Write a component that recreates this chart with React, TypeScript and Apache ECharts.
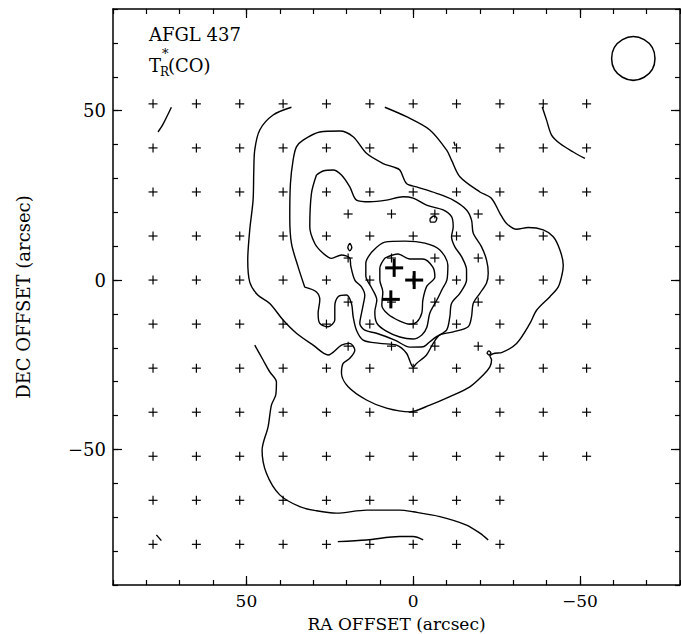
import React, { useEffect, useRef } from "react";
import * as echarts from "echarts";

type Pt = [number, number];

const FONT = "DejaVu Serif";
const RA_MIN = -80;
const RA_MAX = 90;
const DEC_MIN = -90;
const DEC_MAX = 80;
const LABELLED_TICKS = [-50, 0, 50];

// Observed positions (arcsec offsets)
const MAP_RA = [78, 65, 52, 39, 26, 13, 0, -13, -26, -39, -52];
const MAP_DEC = [52, 39, 26, 13, 0, -13, -26, -39, -52];
const SOUTH_RA = [78, 65, 52, 39, 26, 13, 0, -13, -26];
const SOUTH_DEC = [-65, -78];
const FINE_RA = [19.5, 6.5, -6.5, -19.5];
const FINE_DEC = [19.5, 6.5, -6.5, -19.5];
const SOURCES: Pt[] = [[5.7, 3.6], [-0.3, 0], [6.7, -5.7]];
const BEAM = [-66, 65.4, 13]; // ra, dec, fwhm

// Contours of T_R*(CO)
const LEVEL1_SW: Pt[] = [[47.5,-19.2],[45,-23.6],[43,-27.1],[41,-30.1],[41.2,-33.9],[42.5,-36.9],[43.5,-43.3],[45.3,-50.2],[44,-57],[40,-63.4],[34,-66.9],[29,-68.1],[23,-68.8],[14,-67.9],[4,-67.9],[0,-68.4],[-8,-69.8],[-16,-72.3],[-20,-74.7],[-22.5,-76.7]];
const LEVEL1_NW: Pt[] = [[76.5,43.7],[75,46],[72.5,51]];
const LEVEL1_NE: Pt[] = [[-38.7,51.1],[-40,47.2],[-41.5,42.8],[-44,40.3],[-48,37.8],[-51.5,35.9]];
const LEVEL1_SWC: Pt[] = [[77,-75.2],[75.5,-76.9]];
const LEVEL1_S: Pt[] = [[22.6,-77.2],[14,-76.7],[4,-75.7],[0,-75.7],[-3,-76.7]];
const LEVEL2: Pt[] = [[36.5,51],[42,48.7],[46,44.3],[47.5,38.4],[47.8,31.6],[48,23.6],[49,14.8],[49.6,5.9],[49,-0.6],[46.6,-4.4],[43,-6.9],[39,-11.8],[35,-15.7],[30,-19.2],[25.5,-22.1],[21.5,-19.2],[19,-18.7],[17.5,-20.7],[19,-23.1],[21,-24.6],[21.5,-27.5],[19.5,-31.5],[14,-35.4],[8,-37.8],[1,-38.9],[-5,-36.9],[-11,-34.4],[-17,-31.5],[-21,-28],[-23,-25.6],[-23.5,-23.6],[-23,-22.4],[-24.5,-21.6],[-26.5,-21.4],[-31,-18.7],[-35,-12.8],[-37,-8.9],[-41,-4.9],[-43.5,-2],[-44.6,1.5],[-45,4.4],[-44,8.9],[-42,12.8],[-39,14.8],[-34.5,15.5],[-31,15],[-28,16.7],[-26,19.7],[-23.5,24.1],[-20,26],[-14,30.5],[-11.5,35.4],[-10,38.4],[-5,44.3],[2,48.2],[8.5,51]];
const LEVEL3: Pt[] = [[32.5,-2.1],[34.5,3.9],[36.5,10.8],[37,18.7],[36.8,28.5],[36,35.4],[35,39.3],[33,41.3],[28,43.7],[22,44],[18,42.3],[14,37.4],[9,34.4],[6,33.4],[4,32.5],[2,28.5],[-1,27.5],[-7,25.6],[-12,23.6],[-16,20.7],[-17.5,17.7],[-18,13.9],[-20.5,9.8],[-22,5.9],[-22.5,2.1],[-22,-0.9],[-20,-3.9],[-18,-6.9],[-17.5,-10.8],[-16.5,-13.8],[-12,-15.3],[-8,-16.2],[-6,-18.7],[-4,-22.1],[-1,-24.6],[0,-25.7],[2,-21.6],[5,-19.2],[10,-18.7],[15,-17.7],[17,-14.8],[18,-10.8],[18.5,-6.9],[20,-4.4],[22.5,-4.9],[23.5,-7.9],[23.5,-11.8],[25.5,-13.8],[28,-12.8],[28.5,-9.8],[28,-5.9],[29,-3.5],[32.5,-2.1]];
const LEVEL4: Pt[] = [[29,31],[27,32.2],[24,32.5],[21.5,31],[19,27.5],[17,23.6],[13,23.1],[8,23.6],[3,24.6],[0,24.2],[-4,22.1],[-9,20.7],[-11.5,18.7],[-12,15.7],[-11.5,12.8],[-12.5,9.8],[-14.5,6.9],[-16,3],[-16,0],[-14,-3.9],[-11.5,-6.9],[-11,-10.8],[-10,-14.8],[-7,-16.7],[-5,-18.2],[-3,-19.7],[1,-19.8],[5.5,-17.7],[11,-15.7],[14.5,-14.8],[16,-12.8],[15.5,-9.8],[15,-7.4],[14.5,-4.5],[15.5,-2],[17.5,0],[18.7,4.1],[19,6.5],[21.5,7.4],[24.5,6.4],[27,7.9],[29.5,10.8],[31,15.7],[30.5,25.6],[29,31]];
const LEVEL5: Pt[] = [[12.4,8.3],[8.5,11.2],[2.5,11.5],[-3.5,10.9],[-8,8.9],[-10.4,4.4],[-10.1,0],[-8.6,-2.9],[-7.1,-5.9],[-5,-9.7],[-4.1,-13.9],[-2.6,-16.2],[0.1,-17.4],[4,-16.8],[8.2,-15],[10.9,-12.7],[11.5,-9.4],[10.9,-5.9],[12.4,-2.4],[14.2,1.2],[14.2,5],[12.4,8.3]];
const LEVEL6: Pt[] = [[8.5,6.5],[4.6,7.7],[1,6.2],[-2.9,6.2],[-5.9,3.8],[-6.5,0.9],[-4.1,-1.8],[-2.9,-5.9],[-2.6,-9.7],[-1.1,-12.4],[1,-13],[4,-12.1],[7.6,-10],[9.4,-7.4],[9.1,-3.5],[10,0],[10,3.5],[8.5,6.5]];
const SPECK_A: Pt[] = [[19,10.9],[18.4,9.7],[19,8.6],[19.6,9.7],[19,10.9]];
const SPECK_B: Pt[] = [[-5,18],[-6.2,18.9],[-7.1,18.3],[-6.5,17.1],[-5.3,17.1],[-5,18]];
const SPECK_C: Pt[] = [[-22.1,-21.5],[-22.7,-20.9],[-23.3,-21.5],[-22.7,-22.1],[-22.1,-21.5]];
const SPECK_D: Pt[] = [[-12.2,40.8],[-12.6,39.6]];

const CONTOURS: Pt[][] = [LEVEL1_SW, LEVEL1_NW, LEVEL1_NE, LEVEL1_SWC, LEVEL1_S, LEVEL2, LEVEL3, LEVEL4, LEVEL5, LEVEL6, SPECK_A, SPECK_B, SPECK_C, SPECK_D];

const X_TITLE = "RA OFFSET (arcsec)";
const Y_TITLE = "DEC OFFSET (arcsec)";

const fmt = (v: number) =>
  LABELLED_TICKS.includes(v) ? (v < 0 ? "\u2212" + Math.abs(v) : String(v)) : "";

function plusSeries(data: Pt[], half: number, width: number) {
  return {
    type: "custom",
    xAxisIndex: 0,
    yAxisIndex: 0,
    data,
    silent: true,
    clip: false,
    z: 5,
    renderItem: (_p: any, api: any) => {
      const c = api.coord([api.value(0), api.value(1)]);
      const st = { stroke: "#000", lineWidth: width, fill: null };
      return {
        type: "group",
        children: [
          { type: "line", shape: { x1: c[0] - half, y1: c[1], x2: c[0] + half, y2: c[1] }, style: st },
          { type: "line", shape: { x1: c[0], y1: c[1] - half, x2: c[0], y2: c[1] + half }, style: st },
        ],
      };
    },
  };
}

const textStyle = (text: string, size: number, align = "left") => ({
  text,
  font: `${size}px "${FONT}"`,
  fill: "#000",
  align,
  verticalAlign: "middle",
  textAlign: align,
  textVerticalAlign: "middle",
});

export default function App() {
  const ref = useRef<HTMLDivElement>(null);
  useEffect(() => {
    if (!ref.current) return;
    const chart = echarts.init(ref.current, undefined, { renderer: "svg" });
    const samples: Pt[] = [];
    MAP_DEC.forEach((d) => MAP_RA.forEach((r) => samples.push([r, d])));
    SOUTH_DEC.forEach((d) => SOUTH_RA.forEach((r) => samples.push([r, d])));
    FINE_DEC.forEach((d) => FINE_RA.forEach((r) => samples.push([r, d])));

    const txt = { color: "#000", fontFamily: FONT, fontSize: 17 };
    const lineSt = { color: "#000", width: 1.5 };
    const tickSt = { color: "#000", width: 1.2 };
    const xBase = { type: "value", min: RA_MIN, max: RA_MAX, interval: 10, inverse: true, splitLine: { show: false } };
    const yBase = { type: "value", min: DEC_MIN, max: DEC_MAX, interval: 10, splitLine: { show: false } };
    const gridRect = { left: 113, top: 9, width: 567, height: 576, containLabel: false, outerBoundsMode: "none" };

    const option: any = {
      animation: false,
      backgroundColor: "#fff",
      grid: [gridRect, { ...gridRect }],
      xAxis: [
        { ...xBase, gridIndex: 0, position: "bottom",
          axisLine: { show: true, onZero: false, lineStyle: lineSt },
          axisTick: { show: true, inside: true, length: 5, lineStyle: tickSt },
          axisLabel: { show: true, margin: 7, formatter: fmt, ...txt } },
        { ...xBase, gridIndex: 0, position: "top",
          axisLine: { show: true, onZero: false, lineStyle: lineSt },
          axisTick: { show: true, inside: true, length: 5, lineStyle: tickSt },
          axisLabel: { show: false } },
        { ...xBase, gridIndex: 1, position: "bottom",
          axisLine: { show: false, onZero: false },
          axisTick: { show: true, inside: true, length: 9, customValues: LABELLED_TICKS, lineStyle: tickSt },
          axisLabel: { show: false } },
        { ...xBase, gridIndex: 1, position: "top",
          axisLine: { show: false, onZero: false },
          axisTick: { show: true, inside: true, length: 9, customValues: LABELLED_TICKS, lineStyle: tickSt },
          axisLabel: { show: false } },
      ],
      yAxis: [
        { ...yBase, gridIndex: 0, position: "left",
          axisLine: { show: true, onZero: false, lineStyle: lineSt },
          axisTick: { show: true, inside: true, length: 5, lineStyle: tickSt },
          axisLabel: { show: true, margin: 7, formatter: fmt, ...txt, fontSize: 18 } },
        { ...yBase, gridIndex: 0, position: "right",
          axisLine: { show: true, onZero: false, lineStyle: lineSt },
          axisTick: { show: true, inside: true, length: 5, lineStyle: tickSt },
          axisLabel: { show: false } },
        { ...yBase, gridIndex: 1, position: "left",
          axisLine: { show: false, onZero: false },
          axisTick: { show: true, inside: true, length: 9, customValues: LABELLED_TICKS, lineStyle: tickSt },
          axisLabel: { show: false } },
        { ...yBase, gridIndex: 1, position: "right",
          axisLine: { show: false, onZero: false },
          axisTick: { show: true, inside: true, length: 9, customValues: LABELLED_TICKS, lineStyle: tickSt },
          axisLabel: { show: false } },
      ],
      graphic: [
        { type: "text", x: 396.5, y: 624, style: textStyle(X_TITLE, 17, "center") },
        { type: "text", x: 23, y: 297, rotation: Math.PI / 2, style: textStyle(Y_TITLE, 18, "center") },
        { type: "text", x: 149, y: 34, style: textStyle("AFGL 437", 18) },
        { type: "text", x: 149, y: 65, style: textStyle("T", 18) },
        { type: "text", x: 160, y: 72, style: textStyle("R", 12) },
        { type: "text", x: 162, y: 53, style: textStyle("*", 13) },
        { type: "text", x: 168, y: 65, style: textStyle("(CO)", 18) },
      ],
      series: [
        ...CONTOURS.map((c) => ({
          type: "line",
          xAxisIndex: 0,
          yAxisIndex: 0,
          data: c,
          showSymbol: false,
          symbol: "none",
          smooth: 0.3,
          silent: true,
          clip: false,
          lineStyle: { color: "#000", width: 1.4 },
          z: 3,
        })),
        plusSeries(samples, 4.5, 1.2),
        plusSeries(SOURCES, 9, 3),
        {
          type: "custom",
          xAxisIndex: 0,
          yAxisIndex: 0,
          data: [BEAM],
          silent: true,
          clip: false,
          renderItem: (_p: any, api: any) => {
            const c = api.coord([api.value(0), api.value(1)]);
            const s = api.size([api.value(2), api.value(2)]);
            return { type: "circle", shape: { cx: c[0], cy: c[1], r: Math.abs(s[0]) / 2 }, style: { fill: "none", stroke: "#000", lineWidth: 1.5 } };
          },
        },
      ],
    };
    chart.setOption(option);
    return () => chart.dispose();
  }, []);
  return <div ref={ref} style={{ position: "absolute", left: 0, top: 0, width: 681, height: 634, background: "#fff" }} />;
}
